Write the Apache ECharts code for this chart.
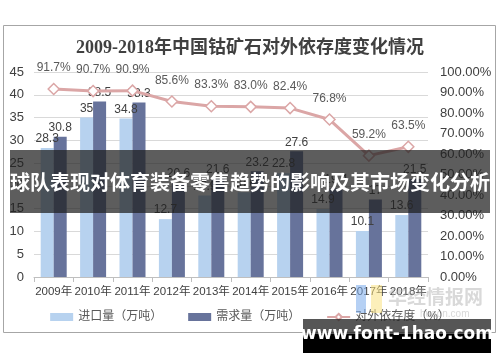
<!DOCTYPE html>
<html>
<head>
<meta charset="utf-8">
<script src="https://cdn.jsdelivr.net/npm/echarts@6/dist/echarts.min.js"></script>
<style>
html,body{margin:0;padding:0;background:#fff;}
#c{width:500px;height:362px;}
</style>
</head>
<body>
<div id="c"></div>
<script>
const categories = ['2009年','2010年','2011年','2012年','2013年','2014年','2015年','2016年','2017年','2018年'];
const importVol = [28.3, 35, 34.8, 12.7, 17.9, 18.6, 22.8, 14.9, 10.1, 13.6];
const demandVol = [30.8, 38.5, 38.3, 20.6, 21.6, 23.2, 27.6, 19.4, 17.0, 21.5];
const dependence = [91.7, 90.7, 90.9, 85.6, 83.3, 83.0, 82.4, 76.8, 59.2, 63.5];
const seriesNames = ['进口量（万吨）', '需求量（万吨）', '对外依存度（%）'];
const titleText = '2009-2018年中国钴矿石对外依存度变化情况';
const bannerText = '球队表现对体育装备零售趋势的影响及其市场变化分析';
const siteText = 'www.font-1hao.com';

const FONT = "'Liberation Sans','Noto Sans CJK SC',sans-serif";
const chart = echarts.init(document.getElementById('c'), null, {renderer:'canvas'});
chart.setOption({
  backgroundColor: '#fff',
  animation: false,
  title: {
    text: titleText, left: 'center', top: 34,
    textStyle: {fontFamily: "'Liberation Serif','Noto Sans CJK SC',serif", fontSize: 18, fontWeight: 'bold', color: '#404040'}
  },
  legend: {
    bottom: 34, left: 'center', itemGap: 26, itemWidth: 23, itemHeight: 8,
    textStyle: {fontFamily: FONT, fontSize: 12, color: '#595959'},
    data: [
      {name: seriesNames[0], icon: 'rect'},
      {name: seriesNames[1], icon: 'rect'},
      {name: seriesNames[2]}
    ]
  },
  grid: {left: 34, right: 72, top: 72, bottom: 85, containLabel: false},
  xAxis: {
    type: 'category', data: categories,
    axisLine: {lineStyle: {color: '#bfbfbf'}},
    axisTick: {show: true, length: 5, lineStyle: {color: '#bfbfbf'}},
    axisLabel: {fontFamily: FONT, fontSize: 11.5, color: '#404040', margin: 9, interval: 0}
  },
  yAxis: [
    {
      type: 'value', min: 0, max: 45, interval: 5,
      axisLine: {show: false}, axisTick: {show: false},
      splitLine: {lineStyle: {color: '#d9d9d9', width: 1}},
      axisLabel: {fontFamily: FONT, fontSize: 13, color: '#404040', margin: 10}
    },
    {
      type: 'value', min: 0, max: 100, interval: 10,
      axisLine: {show: false}, axisTick: {show: false}, splitLine: {show: false},
      axisLabel: {fontFamily: FONT, fontSize: 13, color: '#404040', margin: 12,
        formatter: v => v.toFixed(2) + '%'}
    }
  ],
  series: [
    {
      name: seriesNames[0], type: 'bar', data: importVol, barWidth: 13, barGap: '0%',
      itemStyle: {color: '#b7d2ef'},
      label: {show: true, position: 'top', distance: 3, fontFamily: FONT, fontSize: 12, color: '#404040'}
    },
    {
      name: seriesNames[1], type: 'bar', data: demandVol, barWidth: 13, barGap: '0%',
      itemStyle: {color: '#67739b'},
      label: {show: true, position: 'top', distance: 3, fontFamily: FONT, fontSize: 12, color: '#404040'}
    },
    {
      name: seriesNames[2], type: 'line', yAxisIndex: 1, data: dependence,
      symbol: 'diamond', symbolSize: 11,
      lineStyle: {color: '#dba6a6', width: 3},
      itemStyle: {color: '#fff', borderColor: '#dba6a6', borderWidth: 1.5},
      label: {show: true, position: 'top', distance: 9, fontFamily: FONT, fontSize: 12, color: '#595959',
        formatter: p => p.value.toFixed(1) + '%'}
    }
  ],
  graphic: [
    {type: 'rect', silent: true, z: 0, shape: {x: 3.5, y: 25.5, width: 492, height: 307},
      style: {fill: 'none', stroke: '#a6a6a6', lineWidth: 1}},
    {type: 'rect', silent: true, z: 90, shape: {x: 356, y: 285, width: 10, height: 28},
      style: {fill: 'rgba(120,170,235,0.55)'}},
    {type: 'rect', silent: true, z: 90, shape: {x: 371, y: 285, width: 11, height: 28},
      style: {fill: 'rgba(250,225,130,0.55)'}},
    {type: 'text', silent: true, z: 90, left: 388, top: 287,
      style: {text: '华经情报网', fontFamily: "'Noto Sans CJK SC',sans-serif", fontSize: 19, fontWeight: 'bold', fill: 'rgba(170,170,170,0.45)'}},
    {type: 'text', silent: true, z: 90, left: 420, top: 309,
      style: {text: 'huaon.com', fontFamily: FONT, fontSize: 10, fill: 'rgba(170,170,170,0.45)'}},
    {type: 'rect', silent: true, z: 100, shape: {x: 10, y: 150, width: 480, height: 63},
      style: {fill: 'rgba(30,30,30,0.72)'}},
    {type: 'text', silent: true, z: 101, x: 250, y: 182,
      style: {text: bannerText, fontFamily: "'Noto Sans CJK SC',sans-serif", fontSize: 20, fontWeight: 'bold', fill: '#fff', align: 'center', verticalAlign: 'middle'}},
    {type: 'rect', silent: true, z: 100, shape: {x: 303, y: 319, width: 188, height: 15},
      style: {fill: 'rgba(30,30,30,0.75)'}},
    {type: 'rect', silent: true, z: 100, shape: {x: 303, y: 334, width: 188, height: 19},
      style: {fill: '#000'}},
    {type: 'text', silent: true, z: 101, x: 397, y: 335,
      style: {text: siteText, fontFamily: "'DejaVu Sans',sans-serif", fontSize: 17, fontWeight: 'bold', fill: '#fff', align: 'center', verticalAlign: 'middle'}}
  ]
});
</script>
</body>
</html>
